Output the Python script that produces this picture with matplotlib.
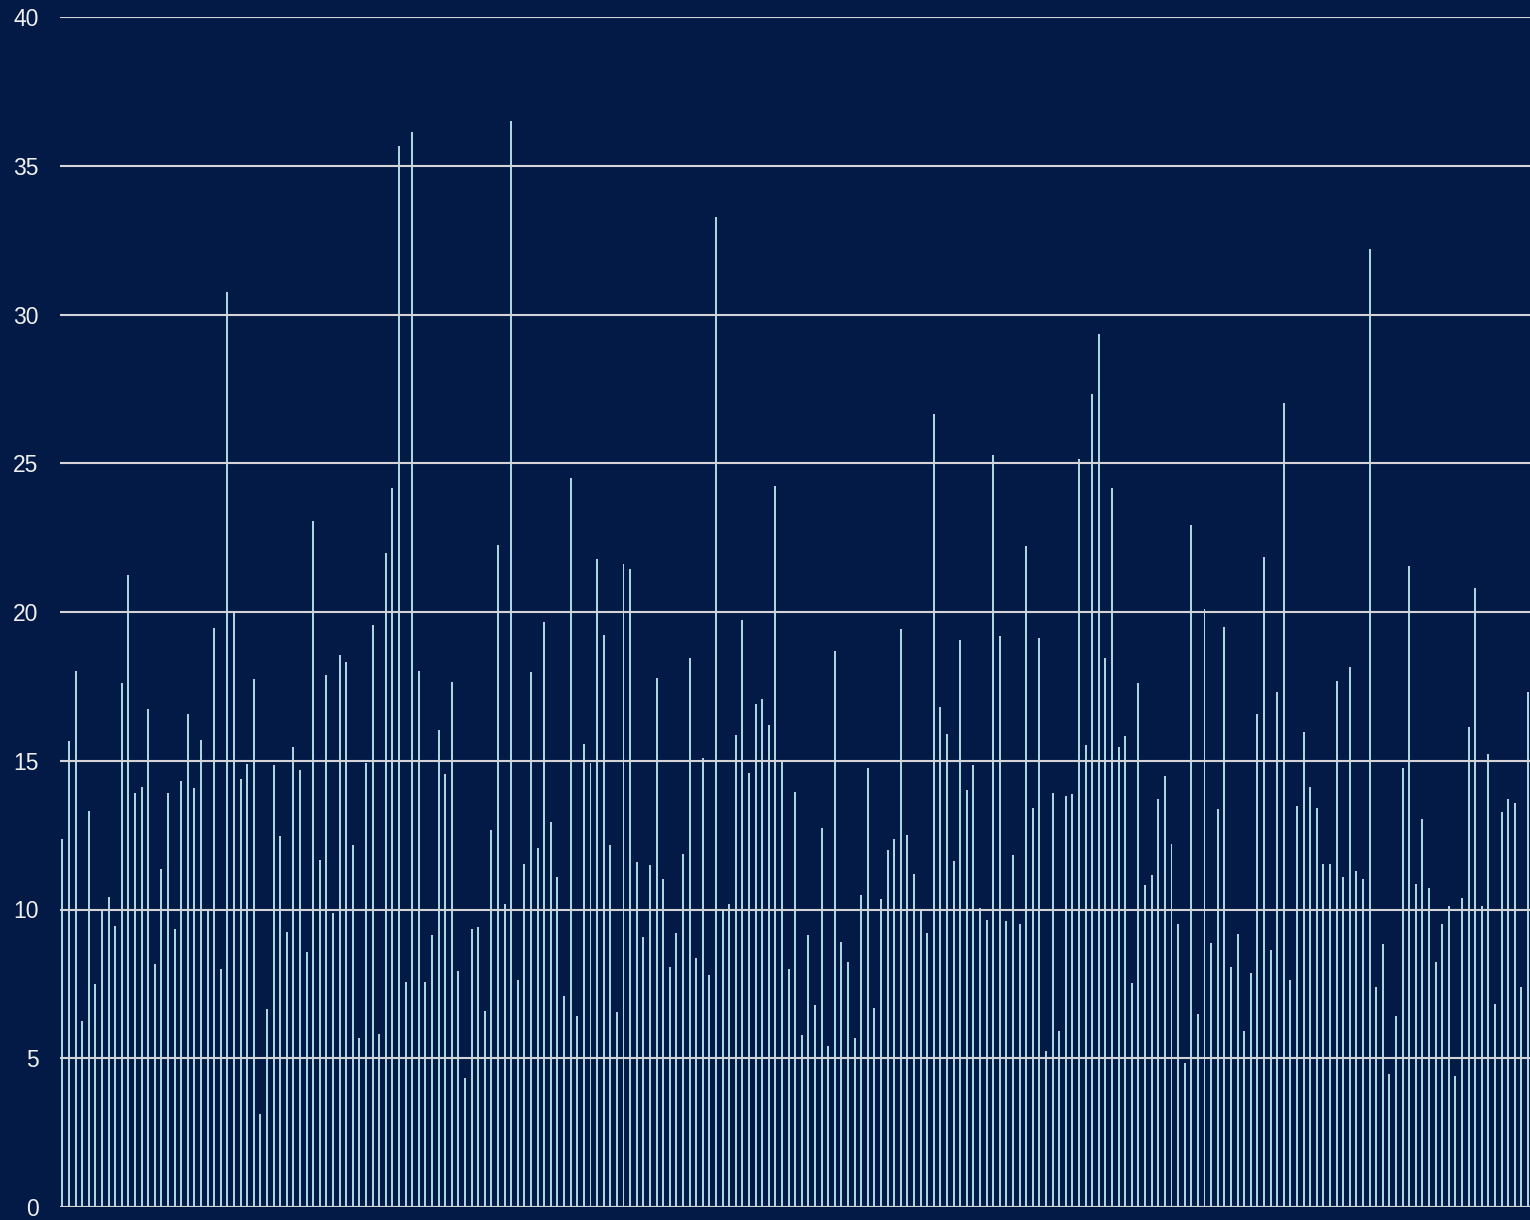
import matplotlib
matplotlib.use("Agg")
import matplotlib.pyplot as plt
import numpy as np

# values, left to right
values = [
    12.36, 15.67, 18.03, 6.26, 13.31, 7.51, 9.94, 10.41, 9.46, 17.6,
    21.26, 13.9, 14.11, 16.73, 8.16, 11.36, 13.9, 9.35, 14.33, 16.56,
    14.07, 15.69, 9.96, 19.46, 7.99, 30.74, 19.96, 14.37, 14.89, 17.75,
    3.12, 6.65, 14.85, 12.47, 9.26, 15.45, 14.7, 8.57, 23.07, 11.65,
    17.88, 9.87, 18.57, 18.33, 12.16, 5.67, 14.91, 19.55, 5.82, 21.97,
    24.16, 35.65, 7.55, 36.13, 18.03, 7.55, 9.13, 16.04, 14.57, 17.64,
    7.94, 4.35, 9.33, 9.42, 6.58, 12.66, 22.25, 10.17, 36.52, 7.62,
    11.52, 17.99, 12.08, 19.68, 12.94, 11.1, 7.08, 24.52, 6.43, 15.56,
    14.91, 21.77, 19.22, 12.16, 6.54, 21.62, 21.43, 11.6, 9.09, 11.49,
    17.79, 11.02, 8.07, 9.22, 11.86, 18.44, 8.38, 15.09, 7.79, 33.27,
    9.94, 10.17, 15.87, 19.74, 14.59, 16.9, 17.08, 16.21, 24.24, 14.98,
    7.99, 13.94, 5.78, 9.13, 6.8, 12.73, 5.41, 18.7, 8.92, 8.23,
    5.67, 10.5, 14.76, 6.69, 10.35, 11.99, 12.36, 19.44, 12.51, 11.21,
    9.96, 9.22, 26.67, 16.82, 15.91, 11.62, 19.05, 14.03, 14.85, 10.04,
    9.65, 25.28, 19.2, 9.61, 11.82, 9.5, 22.23, 13.42, 19.11, 5.26,
    13.9, 5.93, 13.83, 13.87, 25.13, 15.54, 27.32, 29.35, 18.46, 24.16,
    15.45, 15.82, 7.53, 17.6, 10.82, 11.15, 13.7, 14.5, 12.19, 9.52,
    4.83, 22.94, 6.49, 20.09, 8.87, 13.38, 19.48, 8.07, 9.16, 5.91,
    7.88, 16.58, 21.86, 8.64, 17.32, 27.01, 7.62, 13.48, 15.95, 14.11,
    13.42, 11.52, 11.52, 17.68, 11.08, 18.14, 11.28, 11.04, 32.21, 7.4,
    8.85, 4.48, 6.41, 14.76, 21.54, 10.87, 13.03, 10.71, 8.25, 9.5,
    10.11, 4.42, 10.37, 16.13, 20.8, 10.11, 15.24, 6.82, 13.27, 13.72,
    13.57, 7.38, 17.32,
]
y_ticks = [0, 5, 10, 15, 20, 25, 30, 35, 40]

bg = "#021a45"
bar_color = "#a9d6df"
grid_color = "#d4d4d8"

fig = plt.figure(figsize=(15.3, 12.2), dpi=100, facecolor=bg)
ax = fig.add_axes([60 / 1530, 13 / 1220, 1 - 60 / 1530, 1 - 30 / 1220])
ax.set_facecolor(bg)

x = np.arange(len(values))
ax.bar(x, values, width=0.3, color=bar_color, edgecolor="none", zorder=2)

ax.set_ylim(0, 40)
ax.set_xlim(-0.35, len(values) - 1 + 0.3)
ax.set_yticks(y_ticks)
ax.set_yticklabels([str(t) for t in y_ticks], color="#f0f0f0", fontsize=16.5,
                   family=["Liberation Sans", "DejaVu Sans"])
ax.tick_params(axis="y", length=0, pad=15.5)
ax.set_xticks([])
ax.yaxis.grid(True, color=grid_color, linewidth=1.5, zorder=3)
ax.set_axisbelow(False)
for s in ax.spines.values():
    s.set_visible(False)
ax.axhline(0, color=grid_color, linewidth=1.5, zorder=3)

fig.savefig("out.png", dpi=100, facecolor=bg)
